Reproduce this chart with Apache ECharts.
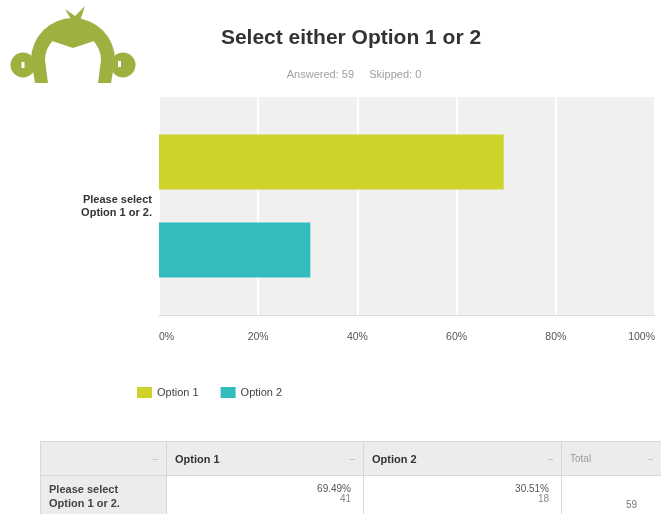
<!DOCTYPE html>
<html>
<head>
<meta charset="utf-8">
<script src="https://cdn.jsdelivr.net/npm/echarts@6/dist/echarts.min.js"></script>
<style>
  html, body { margin: 0; padding: 0; background: #fff; }
  #wrap { position: relative; width: 661px; height: 514px; overflow: hidden; font-family: "Liberation Sans", Arial, sans-serif; }
  #chart { position: absolute; left: 0; top: 0; width: 661px; height: 514px; }
  #tbl { position: absolute; left: 40px; top: 441px; width: 631px; border-collapse: collapse; font-size: 10px; color: #333; table-layout: fixed; }
  #tbl td { border: 1px solid #d8d8d8; padding: 0 8px; box-sizing: border-box; overflow: hidden; }
  #tbl .hd { background: #ececec; height: 34px; vertical-align: middle; }
  #tbl .bd { height: 42px; vertical-align: top; }
  #tbl .hl { background: #ececec; font-weight: bold; font-size: 11px; line-height: 14px; padding-top: 6px; color: #444; }
  #tbl .num { text-align: right; line-height: 10px; padding-top: 8px; padding-right: 12px; color: #555; }
  #tbl .arrow { float: right; color: #bbb; font-weight: normal; font-size: 10px; }
</style>
</head>
<body>
<div id="wrap">
  <div id="chart"></div>
  <table id="tbl"></table>
</div>
<script>
// ---- data ----
const categories = ['Please select\nOption 1 or 2.'];
const seriesNames = ['Option 1', 'Option 2'];
const percents = [69.49, 30.51];
const counts = [41, 18];
const answered = 59;
const skipped = 0;
const total = 59;
const titleText = 'Select either Option 1 or 2';
const rowLabel = 'Please select Option 1 or 2.';
const colors = ['#cdd32a', '#33bcbd'];

// ---- summary table built from the same arrays ----
const tbl = document.getElementById('tbl');
const widths = [126, 197, 198, 110];
let hd = '<colgroup>' + widths.map(w => '<col style="width:' + w + 'px">').join('') + '</colgroup><tr>';
hd += '<td class="hd"><span class="arrow">–</span></td>';
seriesNames.forEach((n, i) => {
  hd += '<td class="hd" style="font-weight:bold;font-size:11px;color:#333">' + n + '<span class="arrow">–</span></td>';
});
hd += '<td class="hd" style="color:#999;padding-right:18px">Total<span class="arrow">–</span></td></tr>';
let bd = '<tr><td class="bd hl">' + rowLabel.replace(' Option', '<br>Option') + '</td>';
percents.forEach((p, i) => {
  bd += '<td class="bd num">' + p.toFixed(2) + '%<br><span style="color:#888">' + counts[i] + '</span></td>';
});
bd += '<td class="bd num" style="padding-top:24px;padding-right:34px;color:#777">' + total + '</td></tr>';
tbl.innerHTML = hd + bd;

const chart = echarts.init(document.getElementById('chart'), null, { renderer: 'canvas' });
const green = '#a0b040';

const option = {
  animation: false,
  backgroundColor: '#fff',
  textStyle: { fontFamily: 'Liberation Sans' },
  title: [
    { text: titleText, left: 346, top: 23, textAlign: 'center',
      textStyle: { fontSize: 21, fontWeight: 'bold', color: '#333', fontFamily: 'Liberation Sans' } },
    { text: 'Answered: ' + answered + '     Skipped: ' + skipped, left: 349, top: 64, textAlign: 'center',
      textStyle: { fontSize: 11, fontWeight: 'normal', color: '#a0a0a0', fontFamily: 'Liberation Sans' } }
  ],
  legend: {
    left: 132, top: 382, itemWidth: 15, itemHeight: 11, itemGap: 22, icon: 'rect',
    textStyle: { fontSize: 11, color: '#444', fontFamily: 'Liberation Sans' },
    data: seriesNames
  },
  grid: { left: 159, right: 6, top: 97, bottom: 199, show: true, backgroundColor: '#f0f0f0', borderWidth: 0 },
  xAxis: {
    type: 'value', min: 0, max: 100, interval: 20,
    axisLine: { show: true, lineStyle: { color: '#dcdcdc', width: 1 } },
    axisTick: { show: false },
    splitLine: { show: true, lineStyle: { color: '#ffffff', width: 2 } },
    axisLabel: { formatter: '{value}%', fontSize: 10.5, color: '#555', margin: 17,
      alignMinLabel: 'left', alignMaxLabel: 'right', fontFamily: 'Liberation Sans' }
  },
  yAxis: {
    type: 'category', data: categories, inverse: true,
    axisLine: { show: false }, axisTick: { show: false },
    axisLabel: { fontSize: 11, color: '#333', fontWeight: 'bold', lineHeight: 13, margin: 7, fontFamily: 'Liberation Sans' }
  },
  series: seriesNames.map((n, i) => ({
    name: n, type: 'bar', data: [percents[i]], barWidth: 55, barGap: '60%',
    itemStyle: { color: colors[i] }
  }))
};
chart.setOption(option);

// logo (decorative)
try {
  chart.setOption({ graphic: [
    { type: 'group', x: 0, y: 0, silent: true, children: [
      { type: 'polygon', shape: { points: [[72,21],[65,9],[75,16],[85,6],[80,21]] }, style: { fill: green } },
      { type: 'circle', shape: { cx: 23, cy: 65, r: 12.5 }, style: { fill: green } },
      { type: 'circle', shape: { cx: 123, cy: 65, r: 12.5 }, style: { fill: green } },
      { type: 'sector', shape: { cx: 73, cy: 60, r0: 28, r: 42, startAngle: Math.PI, endAngle: 2 * Math.PI, clockwise: true }, style: { fill: green } },
      { type: 'polygon', shape: { points: [[31,60],[45,60],[48,83],[35,83]] }, style: { fill: green } },
      { type: 'polygon', shape: { points: [[101,60],[115,60],[111,83],[98,83]] }, style: { fill: green } },
      { type: 'polygon', shape: { points: [[52,41],[60,34],[73,31],[86,34],[94,41],[73,48]] }, style: { fill: green } },
      { type: 'rect', shape: { x: 21.5, y: 62, width: 3, height: 6 }, style: { fill: '#fff' } },
      { type: 'rect', shape: { x: 118, y: 61, width: 3, height: 6 }, style: { fill: '#fff' } }
    ] }
  ] });
} catch (e) { console.error('graphic failed: ' + e.message); }
</script>
</body>
</html>
